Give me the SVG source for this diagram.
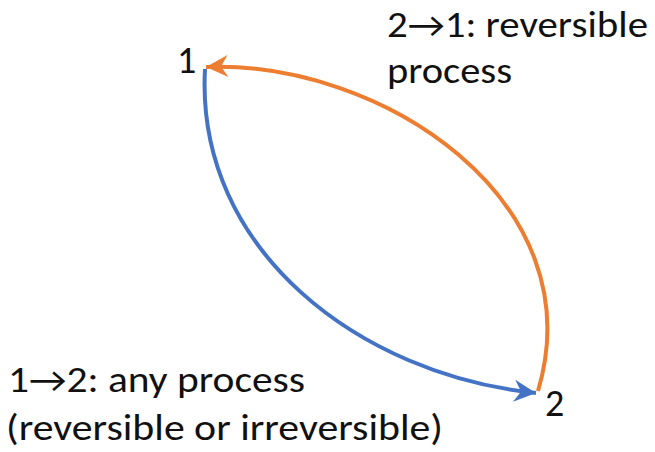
<svg xmlns="http://www.w3.org/2000/svg" width="655" height="452" viewBox="0 0 655 452">
  <style>
    text { font-family: Carlito, "Open Sans", "Noto Sans", sans-serif; fill: #111111; }
    .label { font-size: 36px; }
    .state { font-size: 38px; }
    .edge { fill: none; stroke-width: 4; stroke-linecap: butt; }
    .blue { stroke: #4472C4; }
    .orange { stroke: #ED7D31; }
  </style>
  <defs>
    <marker id="head-blue" markerUnits="userSpaceOnUse" viewBox="-24 -13 26 26" refX="0" refY="0" markerWidth="26" markerHeight="26" orient="auto">
      <path d="M0,0 L-22,-11 L-15,0 L-22,11 Z" fill="#4472C4"/>
    </marker>
    <marker id="head-orange" markerUnits="userSpaceOnUse" viewBox="-24 -13 26 26" refX="0" refY="0" markerWidth="26" markerHeight="26" orient="auto">
      <path d="M0,0 L-22,-11 L-15,0 L-22,11 Z" fill="#ED7D31"/>
    </marker>
  </defs>

  <!-- process paths between the two states -->
  <g id="connectors">
    <path id="path-1-2" class="edge blue" d="M205,69 C195,250 360,375 536,393" marker-end="url(#head-blue)"/>
    <path id="path-2-1" class="edge orange" d="M538,391 C595,200 380,60 206,67" marker-end="url(#head-orange)"/>
  </g>

  <g id="state-1">
    <text class="state" x="177" y="73">1</text>
  </g>
  <g id="state-2">
    <text class="state" x="545" y="416">2</text>
  </g>

  <g id="label-reversible">
    <text class="label" x="387" y="37" textLength="261" lengthAdjust="spacingAndGlyphs">2→1: reversible</text>
    <text class="label" x="387" y="83" textLength="125" lengthAdjust="spacingAndGlyphs">process</text>
  </g>

  <g id="label-any">
    <text class="label" x="8" y="392" textLength="297" lengthAdjust="spacingAndGlyphs">1→2: any process</text>
    <text class="label" x="6" y="440" textLength="437" lengthAdjust="spacingAndGlyphs">(reversible or irreversible)</text>
  </g>
</svg>
